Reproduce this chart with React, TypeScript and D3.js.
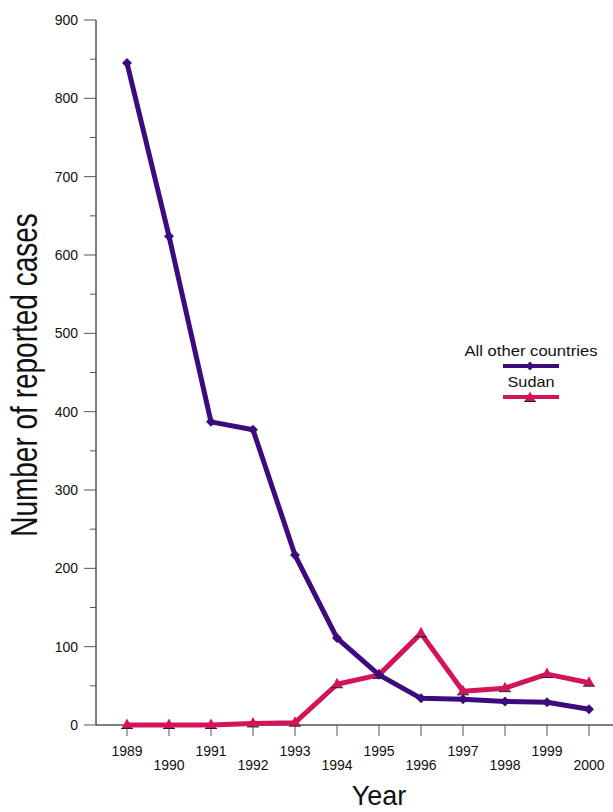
import React from "react";
import * as d3 from "d3";

const years = [1989, 1990, 1991, 1992, 1993, 1994, 1995, 1996, 1997, 1998, 1999, 2000];
const otherCountries = [845, 624, 387, 377, 217, 111, 64, 34, 33, 30, 29, 20];
const sudan = [0, 0, 0, 2, 3, 52, 64, 117, 43, 47, 65, 54];
const yMajorTicks = [0, 100, 200, 300, 400, 500, 600, 700, 800, 900];
const yMinorTicks = [50, 150, 250, 350, 450, 550, 650, 750, 850];
const seriesNames = ["All other countries", "Sudan"];

const PURPLE = "#3c0c7e";
const PINK = "#d4145a";
const FONT = "Liberation Sans, Arial, sans-serif";

export default function App() {
  const W = 613, H = 812;
  const x = d3.scaleLinear().domain([1989, 2000]).range([127, 589]);
  const y = d3.scaleLinear().domain([0, 900]).range([725, 20]);
  const line = d3.line<number>().x((_, i) => x(years[i])).y((d) => y(d));

  const diamond = (cx: number, cy: number, r = 4.5) =>
    `M${cx},${cy - r}L${cx + r},${cy}L${cx},${cy + r}L${cx - r},${cy}Z`;
  const tri = (cx: number, cy: number, r = 5.5) =>
    `M${cx},${cy - r}L${cx + r},${cy + r * 0.8}L${cx - r},${cy + r * 0.8}Z`;

  return (
    <svg width={W} height={H} style={{ position: "absolute", left: 0, top: 0 }} fontFamily={FONT}>
      <rect width={W} height={H} fill="white" />
      {/* y axis */}
      <line x1={96} x2={96} y1={y(900)} y2={y(0)} stroke="black" strokeWidth={1} />
      {yMajorTicks.map((t) => (
        <g key={t}>
          <line x1={84} x2={96} y1={y(t)} y2={y(t)} stroke="#555" strokeWidth={1} />
          <text x={78} y={y(t)} dy="0.35em" textAnchor="end" fontSize={14} fill="#111">{t}</text>
        </g>
      ))}
      {yMinorTicks.map((t) => (
        <line key={t} x1={90} x2={96} y1={y(t)} y2={y(t)} stroke="#555" strokeWidth={1} />
      ))}
      {/* x axis */}
      <line x1={96} x2={613} y1={y(0)} y2={y(0)} stroke="black" strokeWidth={1} />
      {years.map((yr, i) => (
        <g key={yr}>
          <line x1={x(yr)} x2={x(yr)} y1={y(0)} y2={y(0) + 11} stroke="#555" strokeWidth={1} />
          <text x={x(yr)} y={i % 2 === 0 ? 756 : 770} textAnchor="middle" fontSize={14} fill="#111">{yr}</text>
        </g>
      ))}
      <text x={379} y={805} textAnchor="middle" fontSize={27} fill="#111">Year</text>
      <text transform={`translate(37,375) rotate(-90) scale(1,1.3)`} textAnchor="middle" fontSize={28} fill="#111">
        Number of reported cases
      </text>

      {/* Sudan series */}
      <path d={line(sudan) || ""} fill="none" stroke={PINK} strokeWidth={5} strokeLinejoin="round" />
      {sudan.map((v, i) => (
        <g key={i}>
          <path d={tri(x(years[i]), y(v) - 1)} fill={PINK} />
          <line x1={x(years[i]) - 6} x2={x(years[i]) + 6} y1={y(v) + 3.5} y2={y(v) + 3.5} stroke="#222" strokeWidth={1} />
        </g>
      ))}

      {/* Other countries */}
      <path d={line(otherCountries) || ""} fill="none" stroke={PURPLE} strokeWidth={5} strokeLinejoin="round" />
      {otherCountries.map((v, i) => (
        <path key={i} d={diamond(x(years[i]), y(v), 5)} fill={PURPLE} />
      ))}

      {/* legend */}
      <text x={531} y={356} textAnchor="middle" fontSize={14.5} textLength={133} lengthAdjust="spacingAndGlyphs" fill="#111">{seriesNames[0]}</text>
      <line x1={503} x2={559} y1={366} y2={366} stroke={PURPLE} strokeWidth={4} />
      <path d={diamond(530, 366)} fill={PURPLE} />
      <text x={531} y={387} textAnchor="middle" fontSize={15} textLength={47} lengthAdjust="spacingAndGlyphs" fill="#111">{seriesNames[1]}</text>
      <line x1={503} x2={559} y1={397} y2={397} stroke={PINK} strokeWidth={4} />
      <path d={tri(530, 397)} fill={PINK} />
      <line x1={524} x2={536} y1={401.5} y2={401.5} stroke="#222" strokeWidth={1} />
    </svg>
  );
}
